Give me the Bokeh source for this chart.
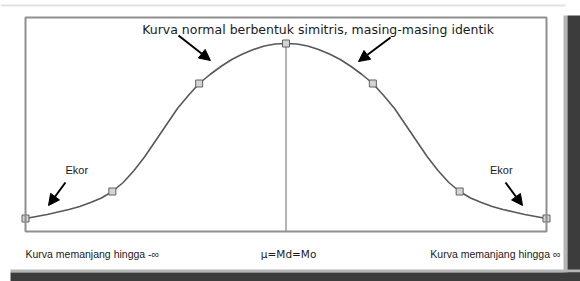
from bokeh.plotting import figure
from bokeh.models import Arrow, NormalHead, Label, BoxAnnotation, Range1d
from bokeh.embed import file_html
from bokeh.resources import INLINE

# ---- data ----
sigma = [-3, -2, -1, 0, 1, 2, 3]
marker_height = [13, 40, 148, 188, 148, 40, 13]

half_x = [0, 0.125, 0.25, 0.375, 0.5, 0.625, 0.75, 0.875, 1.0, 1.125, 1.25, 1.375,
          1.5, 1.625, 1.75, 1.875, 2.0, 2.125, 2.25, 2.375, 2.5, 2.625, 2.75, 2.875, 3.0]
half_y = [188, 187.5, 185.5, 182, 177.5, 172, 165, 157, 148, 136, 123, 107,
          91, 75, 61, 49, 40, 33.5, 29, 25, 22, 19.5, 17, 15, 13]
curve_x = [-v for v in half_x[::-1]] + half_x[1:]
curve_y = half_y[::-1] + half_y[1:]

title_text = "Kurva normal berbentuk simitris, masing-masing identik"
tail_text = "Ekor"
left_text = "Kurva memanjang hingga -\u221e"
mid_text = "\u03bc=Md=Mo"
right_text = "Kurva memanjang hingga \u221e"

W, H = 580, 281
PX_PER_X = 521 / 6.0
X0_PX = 25
Y0_PX = 231

def dx(px):
    return -3 + (px - X0_PX) / PX_PER_X

def dy(py):
    return Y0_PX - py

p = figure(width=W, height=H, output_backend="svg", toolbar_location=None,
           x_range=Range1d(dx(0), dx(W)), y_range=Range1d(dy(H), dy(0)),
           min_border=0)
p.xaxis.visible = False
p.yaxis.visible = False
p.xgrid.visible = False
p.ygrid.visible = False
p.background_fill_color = "white"
p.border_fill_color = "white"
p.outline_line_color = None

def box(l, r, t, b, color):
    p.add_layout(BoxAnnotation(left=dx(l), right=dx(r), top=dy(t), bottom=dy(b),
                               fill_color=color, fill_alpha=1, line_alpha=0))

# drop shadow / frame decoration
box(0, 565, 4, 6, "#e2e2e2")
box(563, 567, 15, 281, "#b5b5b5")
box(567, 580, 15, 281, "#3c3c3c")
box(10, 580, 269, 272, "#b5b5b5")
box(10, 580, 272, 281, "#3c3c3c")

# plot frame
p.add_layout(BoxAnnotation(left=-3, right=3, bottom=0, top=214, fill_alpha=0,
                           line_color="#8f8f8f", line_alpha=1, line_width=2))

# vertical line at the mean
p.segment(x0=[0], y0=[0], x1=[0], y1=[max(marker_height)], line_color="#b4b4b4", line_width=2)

# curve
p.line(curve_x, curve_y, line_color="#585858", line_width=1.6)
p.scatter(sigma, marker_height, marker="square", size=7, fill_color="#d4d4d4",
          line_color="#606060", line_width=1)

# arrows
def arr(x0, y0, x1, y1):
    p.add_layout(Arrow(end=NormalHead(size=11, fill_color="black", line_color="black"),
                       x_start=x0, y_start=y0, x_end=x1, y_end=y1,
                       line_color="black", line_width=2))

arr(-1.238, 196, -0.87, 171)
arr(1.204, 194, 0.835, 170)
arr(-2.54, 49, -2.735, 26)
arr(2.528, 49, 2.724, 26)

def lab(x, y, text, size, align="center", font="Liberation Sans"):
    p.add_layout(Label(x=x, y=y, text=text,
                       text_font=font, text_font_size=size, text_color="#1a1a1a",
                       text_align=align, text_baseline="middle"))

lab(0.37, 202, title_text, "12.5px", font="DejaVu Sans")
lab(-2.41, 62, tail_text, "11px")
lab(2.48, 62, tail_text, "11px")
lab(-3, -22, left_text, "10.5px", align="left")
lab(0.03, -22, mid_text, "10.5px", font="DejaVu Sans")
lab(3.16, -22, right_text, "10.5px", align="right")

open("out.html", "w").write(file_html(p, INLINE))
